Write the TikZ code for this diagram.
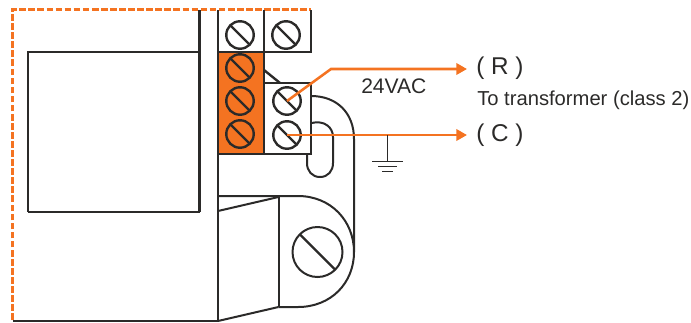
\documentclass[tikz,border=0pt]{standalone}
\usepackage{fontspec}
\setmainfont{Liberation Sans}
\usetikzlibrary{arrows.meta}
\definecolor{wireor}{HTML}{F47321}
\definecolor{ink}{HTML}{2B2A29}
\tikzset{
  x=0.75pt,y=-0.75pt,
  part/.style={draw=ink,line width=1.8pt,line join=miter},
  thin part/.style={draw=ink,line width=1.5pt},
  screw/.style={circle,draw=ink,line width=1.8pt,minimum size=20.6pt,inner sep=0pt,outer sep=0pt,
    path picture={\draw[ink,line width=1.8pt] (path picture bounding box.north west) -- (path picture bounding box.south east);}},
  bigscrew/.style={screw,minimum size=37.5pt,line width=1.5pt},
  wire/.style={draw=wireor,line width=1.9pt},
  lead/.style={wire,-{Triangle[length=8pt,width=8.5pt]}},
  outline/.style={draw=wireor,line width=2pt,dash pattern=on 5pt off 1.8pt},
  lab/.style={inner sep=0pt,anchor=west,text=ink}
}
\begin{document}
\begin{tikzpicture}
\useasboundingbox (0,0) rectangle (691,322);
\fill[wireor] (218,52) rectangle (264,154);
% body
\draw[outline] (12.5,320) -- (12.5,9.5) -- (311,9.5);
\draw[part] (12.5,321) -- (218,321);
\draw[part] (199.5,10) -- (199.5,212);
\draw[part] (28,212) -- (28,52) -- (199.5,52);
\draw[part] (28,212) -- (199.5,212);
\draw[part] (218,10) -- (218,321);
% terminal blocks
\draw[part] (264,10) -- (264,154);
\draw[part] (311,10) -- (311,52) -- (218,52);
\draw[part] (264,83) -- (311,83) -- (311,154) -- (218,154);
\draw[part] (264,70) -- (280,83);
% bracket
\draw[thin part] (311,96) .. controls (337,96) and (354,113) .. (354,139) -- (354,252);
\draw[thin part] (311.5,123) .. controls (324,120) and (333,127) .. (333,137) -- (333,163)
  .. controls (333,171) and (328,177) .. (320,177) .. controls (312,177) and (307,171) .. (307,163) -- (307,154);
\draw[thin part] (218,196) -- (298,196) .. controls (331,196) and (354,221) .. (354,252)
  .. controls (354,283) and (331,307) .. (298,307) -- (278.5,307);
\draw[thin part] (278.5,197) -- (278.5,307);
\draw[thin part] (218,211) -- (278.5,197);
\draw[thin part] (218,321) -- (278.5,307);
% screws
\node[screw] (t1) at (240,35) {};
\node[screw] (t2) at (286,35) {};
\node[screw] (o1) at (240,68) {};
\node[screw] (o2) at (240,101) {};
\node[screw] (o3) at (240,134) {};
\node[screw] (r) at (287,101) {};
\node[screw] (c) at (287,135) {};
\node[bigscrew] (m) at (317.5,252) {};
% labels
\node[lab,font=\fontsize{15.8pt}{17pt}\selectfont] (v) at (361,86.5) {24VAC};
\node[lab,font=\fontsize{18.2pt}{20pt}\selectfont] (lr) at (476,68) {( R )};
\node[lab,font=\fontsize{15.15pt}{17pt}\selectfont] (tt) at (477,100) {To transformer (class 2)};
\node[lab,font=\fontsize{18.2pt}{20pt}\selectfont] (lc) at (476,135) {( C )};
% wires
\coordinate (rb) at (331,69);
\coordinate (re) at (467,69);
\coordinate (ce) at (467,135);
\draw[lead] (r.center) -- (rb) -- (re);
\draw[lead] (c.center) -- (ce);
% ground
\coordinate (g0) at (387,135);
\coordinate (g1) at (387,161.5);
\draw[draw=ink,line width=0.75pt] (g0) -- (g1);
\draw[draw=ink,line width=0.75pt] (372,161.5) -- (403,161.5) (378,166.5) -- (397,166.5) (382,171.5) -- (393,171.5);
\end{tikzpicture}
\end{document}
